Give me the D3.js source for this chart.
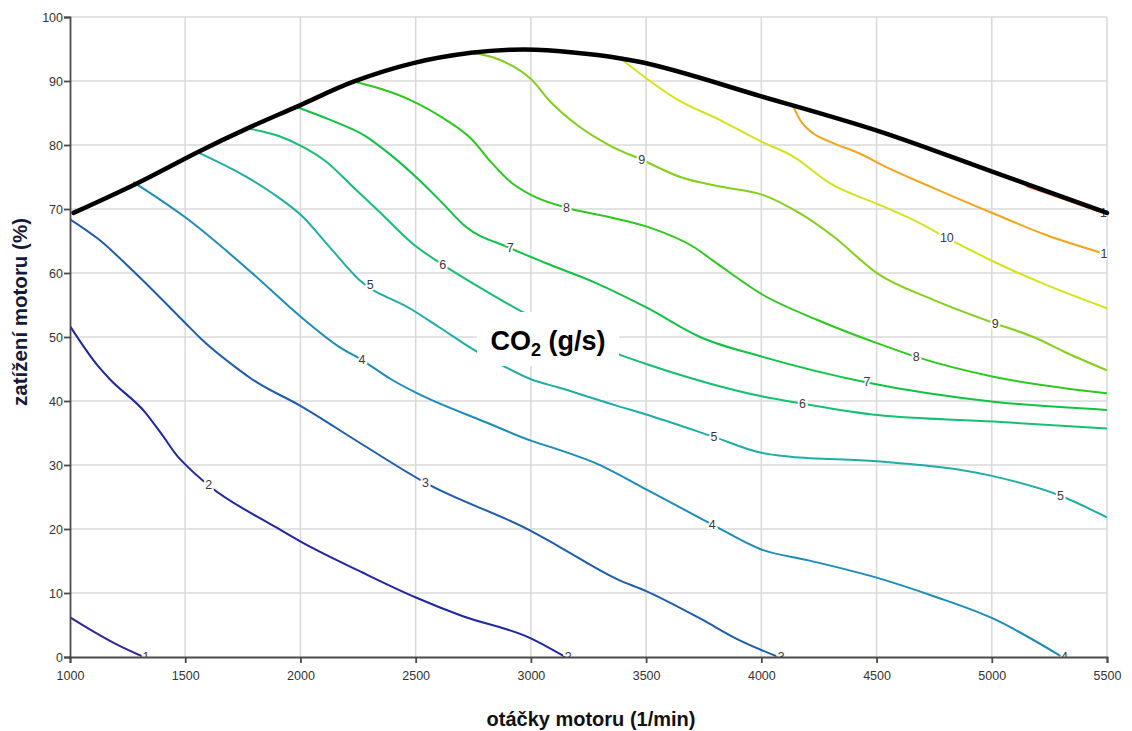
<!DOCTYPE html>
<html>
<head>
<meta charset="utf-8">
<script src="https://cdn.jsdelivr.net/npm/d3@7"></script>
<style>
  body { margin: 0; background: #fff; }
  svg { display: block; }
</style>
</head>
<body>
<svg id="chart" width="1132" height="731"></svg>
<script>
// Axis ticks
const rpmTicks = [1000, 1500, 2000, 2500, 3000, 3500, 4000, 4500, 5000, 5500];
const loadTicks = [0, 10, 20, 30, 40, 50, 60, 70, 80, 90, 100];

// Full-load curve: [rpm, load %]
const fullLoad = [[1015,69.4],[1290,74.0],[1560,79.0],[1770,82.6],[1985,86.0],[2230,89.9],[2490,92.8],[2740,94.4],[2920,94.9],[3070,94.8],[3470,93.0],[4000,87.6],[4515,82.1],[5005,75.8],[5500,69.4]];

// CO2 iso-lines (g/s): [rpm, load %]
const co2_1 = [[1000,6.2],[1110,3.8],[1200,2.0],[1320,0]];
const co2_2 = [[1000,51.7],[1123,45.4],[1173,43.4],[1327,38.2],[1404,34.5],[1466,31.4],[1500,30.1],[1602,26.8],[1883,20.5],[2007,17.9],[2269,13.2],[2501,9.3],[2702,6.4],[2995,3.0],[3150,0]];
const co2_3 = [[1000,68.4],[1123,65.3],[1283,60.0],[1500,52.2],[1572,49.6],[1732,44.9],[1790,43.4],[2002,39.2],[2269,33.2],[2543,27.2],[3000,19.7],[3120,17.3],[3378,12.1],[3500,10.3],[3740,5.9],[3895,2.8],[4074,0]];
const co2_4 = [[1275,74.2],[1500,68.7],[1790,60.0],[2000,53.2],[2166,48.5],[2267,46.4],[2393,43.4],[2501,41.3],[2810,36.6],[3000,33.8],[3120,32.4],[3273,30.4],[3500,26.2],[3787,20.7],[4000,16.8],[4205,15.1],[4500,12.4],[4748,9.5],[5000,6.1],[5306,0]];
const co2_5 = [[1553,78.9],[1762,75.1],[1877,72.5],[2007,68.9],[2123,64.2],[2253,59.0],[2483,54.3],[2599,51.6],[2766,47.7],[2879,45.5],[3000,43.4],[3120,42.1],[3378,39.2],[3500,37.9],[3794,34.4],[4000,31.9],[4127,31.3],[4500,30.6],[5000,28.3],[5298,25.2],[5500,21.8]];
const co2_6 = [[1769,82.6],[1906,81.4],[2000,79.9],[2108,77.5],[2224,73.6],[2339,69.7],[2483,64.7],[2617,61.3],[2771,57.9],[2959,54.0],[3387,47.2],[3507,45.7],[4006,40.7],[4178,39.6],[4505,37.8],[5007,36.8],[5500,35.7]];
const co2_7 = [[1971,86.1],[2124,84.0],[2282,81.4],[2397,78.3],[2513,74.6],[2614,71.0],[2715,67.3],[2910,63.9],[3061,61.6],[3278,58.5],[3507,54.5],[3734,50.0],[4006,46.9],[4458,42.9],[5007,39.9],[5500,38.6]];
const co2_8 = [[2224,90.0],[2484,86.9],[2628,84.0],[2743,80.9],[2830,77.2],[2916,74.1],[3000,72.2],[3154,70.2],[3320,68.9],[3507,67.2],[3705,64.1],[3807,61.5],[4006,56.6],[4241,52.7],[4505,49.0],[4672,46.9],[5007,43.8],[5500,41.2]];
const co2_9 = [[2729,94.5],[2859,93.4],[3000,90.3],[3089,86.6],[3205,83.0],[3349,79.8],[3481,77.7],[3648,75.0],[3821,73.5],[4006,72.2],[4168,69.3],[4313,65.7],[4505,59.9],[4747,55.8],[5015,52.1],[5181,50.0],[5326,47.5],[5500,44.8]];
const co2_10 = [[3400,93.2],[3640,87.0],[3821,83.9],[4002,80.5],[4139,78.2],[4299,74.0],[4516,70.6],[4660,68.3],[4805,65.5],[5007,61.8],[5239,58.1],[5500,54.5]];
const co2_11 = [[4139,86.0],[4168,83.9],[4226,81.8],[4299,80.5],[4443,78.4],[4516,77.0],[4733,73.5],[5007,69.3],[5239,65.9],[5500,62.9]];
const co2_12 = [[5150,73.6],[5300,71.7],[5490,69.3]];

const levels = [1, 2, 3, 4, 5, 6, 7, 8, 9, 10, 11, 12];
const levelLines = [co2_1, co2_2, co2_3, co2_4, co2_5, co2_6, co2_7, co2_8, co2_9, co2_10, co2_11, co2_12];
const levelColors = ["#3a229c", "#2027a0", "#1f5cae", "#1f8cb8", "#20ada6", "#17bf72", "#12c244", "#2ec81f", "#84cf1c", "#d6e21c", "#f0a51e", "#f05a1a"];

// Inline value labels: [level, rpm, load %]
const lineLabels = [
  [1, 1330, 0],
  [2, 1602, 26.8], [2, 3162, 0],
  [3, 2543, 27.2], [3, 4086, 0],
  [4, 2267, 46.4], [4, 3787, 20.7], [4, 5315, 0],
  [5, 2303, 58.2], [5, 3794, 34.4], [5, 5298, 25.2],
  [6, 2617, 61.3], [6, 4178, 39.6],
  [7, 2910, 63.9], [7, 4458, 42.9],
  [8, 3154, 70.2], [8, 4672, 46.9],
  [9, 3481, 77.7], [9, 5015, 52.1],
  [10, 4805, 65.5],
  [11, 5500, 62.9],
  [12, 5500, 69.3]
];

const svg = d3.select("#chart");
const plot = { left: 70, top: 17, right: 1107, bottom: 657 };

const x = d3.scaleLinear().domain([1000, 5500]).range([plot.left, plot.right]);
const y = d3.scaleLinear().domain([0, 100]).range([plot.bottom, plot.top]);

const font = "'Liberation Sans', Arial, sans-serif";

svg.append("defs").append("clipPath").attr("id", "plotArea")
  .append("rect")
  .attr("x", plot.left).attr("y", plot.top)
  .attr("width", plot.right - plot.left).attr("height", plot.bottom - plot.top);

// grid
const grid = svg.append("g").attr("stroke", "#dadada").attr("stroke-width", 1.6);
grid.selectAll("line.v").data(rpmTicks.slice(1)).join("line")
  .attr("x1", d => x(d)).attr("x2", d => x(d))
  .attr("y1", plot.top).attr("y2", plot.bottom);
grid.selectAll("line.h").data(loadTicks.slice(1)).join("line")
  .attr("x1", plot.left).attr("x2", plot.right)
  .attr("y1", d => y(d)).attr("y2", d => y(d));

// iso-lines (each one is a function of rpm, so a monotone-x spline keeps them smooth)
const line = d3.line().x(d => x(d[0])).y(d => y(d[1])).curve(d3.curveMonotoneX);
const lines = svg.append("g").attr("clip-path", "url(#plotArea)").attr("fill", "none");
lines.selectAll("path").data(levelLines).join("path")
  .attr("d", line)
  .attr("stroke", (d, i) => levelColors[i])
  .attr("stroke-width", 2);

// inline labels
svg.append("g").attr("clip-path", "url(#plotArea)")
  .selectAll("text").data(lineLabels).join("text")
  .attr("x", d => x(d[1])).attr("y", d => y(d[2]))
  .attr("text-anchor", "middle")
  .attr("dominant-baseline", "central")
  .attr("font-family", font).attr("font-size", 12.5)
  .attr("fill", "#3a3a3a")
  .attr("stroke", "#fff").attr("stroke-width", 4).attr("paint-order", "stroke")
  .text(d => d[0]);

// full-load curve
svg.append("path")
  .datum(fullLoad)
  .attr("d", d3.line().x(d => x(d[0])).y(d => y(d[1])).curve(d3.curveCatmullRom.alpha(0.5)))
  .attr("fill", "none")
  .attr("stroke", "#000")
  .attr("stroke-width", 4.5)
  .attr("stroke-linecap", "round");

// axes
const xAxis = svg.append("g").attr("transform", `translate(0,${plot.bottom})`)
  .call(d3.axisBottom(x).tickValues(rpmTicks).tickSize(6).tickPadding(8).tickFormat(d3.format("d")));
const yAxis = svg.append("g").attr("transform", `translate(${plot.left},0)`)
  .call(d3.axisLeft(y).tickValues(loadTicks).tickSize(6).tickPadding(1).tickFormat(d3.format("d")));
[xAxis, yAxis].forEach(a => {
  a.selectAll("path, line").attr("stroke", "#4a4a4a").attr("stroke-width", 1.8);
  a.selectAll("text").attr("font-family", font).attr("font-size", 12.5).attr("fill", "#333");
});

// axis titles
svg.append("text")
  .attr("x", 591).attr("y", 726)
  .attr("text-anchor", "middle")
  .attr("font-family", font).attr("font-weight", "bold").attr("font-size", 20)
  .attr("fill", "#111")
  .text("otáčky motoru (1/min)");

svg.append("text")
  .attr("transform", "translate(27,312) rotate(-90)")
  .attr("text-anchor", "middle")
  .attr("font-family", font).attr("font-weight", "bold").attr("font-size", 20.5)
  .attr("fill", "#161a3a")
  .text("zatížení motoru (%)");

// quantity label
svg.append("rect")
  .attr("x", 477).attr("y", 312).attr("width", 142).attr("height", 54)
  .attr("fill", "#fff");
const q = svg.append("text")
  .attr("x", 548).attr("y", 350)
  .attr("text-anchor", "middle")
  .attr("font-family", font).attr("font-weight", "bold").attr("font-size", 27)
  .attr("fill", "#000");
q.append("tspan").text("CO");
q.append("tspan").attr("font-size", 18).attr("dy", 6).text("2");
q.append("tspan").attr("dy", -6).text(" (g/s)");
</script>
</body>
</html>
